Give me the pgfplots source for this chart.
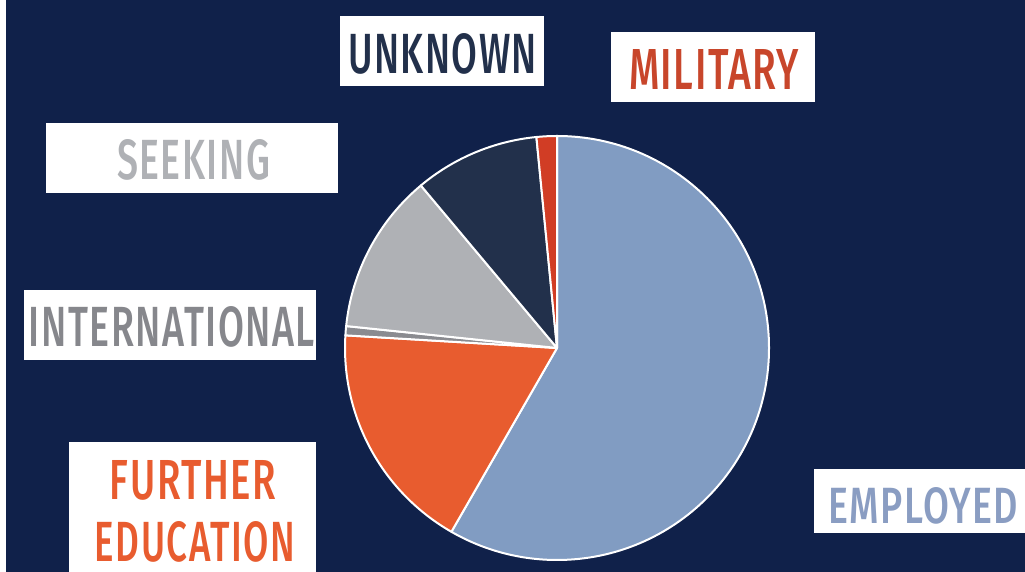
\documentclass[border=0pt]{standalone}
\usepackage{pgfplots}
\pgfplotsset{compat=1.18}
\usepackage{pgfplotstable}
\usepackage{fontspec}
\setmainfont{Fira Sans}[BoldFont={Fira Sans Medium}]
\usepackage{graphicx}

\definecolor{bg}{HTML}{10214A}
\definecolor{slice0}{HTML}{819CC2}
\definecolor{slice1}{HTML}{E85C2F}
\definecolor{slice2}{HTML}{8A8B90}
\definecolor{slice3}{HTML}{AFB1B5}
\definecolor{slice4}{HTML}{22304B}
\definecolor{slice5}{HTML}{D13D25}
\definecolor{tUnknown}{HTML}{22304B}
\definecolor{tMilitary}{HTML}{C8462B}
\definecolor{tSeeking}{HTML}{AFB1B5}
\definecolor{tIntl}{HTML}{86878C}
\definecolor{tFurther}{HTML}{E85C2F}
\definecolor{tEmployed}{HTML}{8A9DC2}

\pgfplotstableread{
label pct
Employed 58.3
FurtherEducation 17.65
International 0.7
Seeking 12.25
Unknown 9.55
Military 1.55
}\piedata

\newcommand{\lab}[6]{\node[inner sep=0pt, text=#5, anchor=center] at (axis cs:#1,#2) {\resizebox{#3}{#4}{\bfseries\addfontfeatures{LetterSpace=4} #6}};}

\begin{document}
\begin{tikzpicture}
\begin{axis}[x=0.1mm, y=0.1mm, xmin=0, xmax=1025, ymin=0, ymax=572,
  hide axis, clip=false, scale only axis]
\fill[white] (axis cs:0,0) rectangle (axis cs:1025,572);
\fill[bg] (axis cs:6,0) rectangle (axis cs:1025,572);
\pgfplotstablegetrowsof{\piedata}
\pgfmathtruncatemacro\N{\pgfplotsretval-1}
\gdef\startang{90}
\pgfplotsforeachungrouped \i in {0,...,\N}{%
  \pgfplotstablegetelem{\i}{pct}\of\piedata
  \pgfmathsetmacro\endang{\startang-3.6*\pgfplotsretval}%
  \edef\tmp{\noexpand\filldraw[fill=slice\i, draw=white, line width=0.2mm, line join=round] (axis cs:557,224) -- ++(\startang:21.2mm) arc[start angle=\startang, end angle=\endang, radius=21.2mm] -- cycle;}%
  \tmp
  \global\let\startang\endang
}
% label boxes
\fill[white] (axis cs:340,486) rectangle (axis cs:544,556);
\fill[white] (axis cs:611,470) rectangle (axis cs:815,540);
\fill[white] (axis cs:46,379) rectangle (axis cs:338,449);
\fill[white] (axis cs:24,212) rectangle (axis cs:316,282);
\fill[white] (axis cs:69,0) rectangle (axis cs:316,130);
\fill[white] (axis cs:814,39) rectangle (axis cs:1025,103);
\lab{442.5}{518}{18.9mm}{4.0mm}{tUnknown}{UNKNOWN}
\lab{714}{502}{17.0mm}{4.0mm}{tMilitary}{MILITARY}
\lab{193.5}{412}{15.3mm}{4.0mm}{tSeeking}{SEEKING}
\lab{172}{245}{28.6mm}{4.0mm}{tIntl}{INTERNATIONAL}
\lab{193}{92}{16.6mm}{3.9mm}{tFurther}{FURTHER}
\lab{195}{30}{20.0mm}{4.0mm}{tFurther}{EDUCATION}
\lab{923}{66}{19.0mm}{3.6mm}{tEmployed}{EMPLOYED}
\end{axis}
\end{tikzpicture}
\end{document}
